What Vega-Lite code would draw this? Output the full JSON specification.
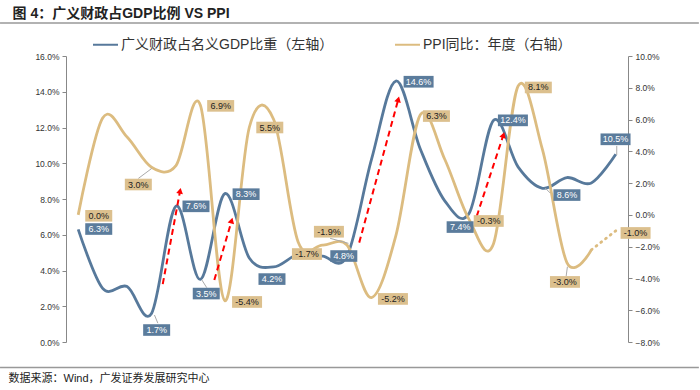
{
"$schema": "https://vega.github.io/schema/vega-lite/v6.json",
"width": 562, "height": 286,
"autosize": {"type": "none"},
"padding": {"left": 66, "top": 56, "right": 72, "bottom": 48},
"background": "white",
"config": {"view": {"stroke": null}, "font": "Liberation Sans, Noto Sans CJK SC"},
"datasets": {
 "fiscal": [
  {"year":2003,"v":6.3},{"year":2004,"v":3.0},{"year":2005,"v":3.1},{"year":2006,"v":1.6},{"year":2007,"v":7.6},{"year":2008,"v":3.5},{"year":2009,"v":8.3},{"year":2010,"v":4.7},{"year":2011,"v":4.2},{"year":2012,"v":4.9},{"year":2013,"v":4.8},{"year":2014,"v":4.8},{"year":2015,"v":10.2},{"year":2016,"v":14.6},{"year":2017,"v":10.8},{"year":2018,"v":7.9},{"year":2019,"v":7.2},{"year":2020,"v":12.4},{"year":2021,"v":9.8},{"year":2022,"v":8.6},{"year":2023,"v":9.2},{"year":2024,"v":8.9},{"year":2025,"v":10.5}
 ],
 "ppi": [
  {"year":2003,"v":0.0},{"year":2004,"v":6.1},{"year":2005,"v":4.9},{"year":2006,"v":3.0},{"year":2007,"v":3.1},{"year":2008,"v":6.9},{"year":2009,"v":-5.4},{"year":2010,"v":5.5},{"year":2011,"v":6.0},{"year":2012,"v":-1.7},{"year":2013,"v":-1.9},{"year":2014,"v":-1.9},{"year":2015,"v":-5.2},{"year":2016,"v":-1.3},{"year":2017,"v":6.3},{"year":2018,"v":3.5},{"year":2019,"v":-0.3},{"year":2020,"v":-1.8},{"year":2021,"v":8.1},{"year":2022,"v":4.1},{"year":2023,"v":-3.0},{"year":2024,"v":-2.2},{"year":2025,"v":-1.0}
 ],
 "frameline": [{"fx":1999.8,"fy":17.85,"g":"top"},{"fx":2028.4,"fy":17.85,"g":"top"},{"fx":1999.8,"fy":-1.43,"g":"bottom"},{"fx":2028.4,"fy":-1.43,"g":"bottom"}],
 "leaders": [
  {"x1":2005.46,"y1":9.15,"x2":2006.01,"y2":9.71},
  {"x1":2006.12,"y1":1.51,"x2":2006.26,"y2":1.05},
  {"x1":2008.06,"y1":3.47,"x2":2008.26,"y2":3.04},
  {"x1":2013.31,"y1":5.8,"x2":2014.06,"y2":5.52},
  {"x1":2022.11,"y1":8.62,"x2":2022.31,"y2":8.34},
  {"x1":2023.02,"y1":4.21,"x2":2022.97,"y2":3.69},
  {"x1":2025.04,"y1":10.97,"x2":2025.04,"y2":10.46}
 ],
 "arrows": [
  {"id":1,"x1":2006.46,"y1":3.24,"x2":2007.17,"y2":8.46},
  {"id":2,"x1":2008.57,"y1":3.47,"x2":2009.28,"y2":6.79},
  {"id":3,"x1":2014.5,"y1":5.56,"x2":2016.1,"y2":13.58},
  {"id":4,"x1":2019.31,"y1":7.04,"x2":2020.4,"y2":11.58}
 ],
 "labels": [
  {"lx":2003.84,"ly":7.06,"t":"0.0%","s":"ppi"},
  {"lx":2003.84,"ly":6.32,"t":"6.3%","s":"fiscal"},
  {"lx":2005.46,"ly":8.81,"t":"3.0%","s":"ppi"},
  {"lx":2006.21,"ly":0.67,"t":"1.7%","s":"fiscal"},
  {"lx":2007.82,"ly":7.59,"t":"7.6%","s":"fiscal"},
  {"lx":2008.83,"ly":13.21,"t":"6.9%","s":"ppi"},
  {"lx":2008.24,"ly":2.71,"t":"3.5%","s":"fiscal"},
  {"lx":2009.87,"ly":8.27,"t":"8.3%","s":"fiscal"},
  {"lx":2009.91,"ly":2.24,"t":"-5.4%","s":"ppi"},
  {"lx":2010.84,"ly":12.0,"t":"5.5%","s":"ppi"},
  {"lx":2010.93,"ly":3.52,"t":"4.2%","s":"fiscal"},
  {"lx":2012.36,"ly":4.92,"t":"-1.7%","s":"ppi"},
  {"lx":2013.26,"ly":6.17,"t":"-1.9%","s":"ppi"},
  {"lx":2013.87,"ly":4.81,"t":"4.8%","s":"fiscal"},
  {"lx":2015.88,"ly":2.41,"t":"-5.2%","s":"ppi"},
  {"lx":2016.93,"ly":14.56,"t":"14.6%","s":"fiscal"},
  {"lx":2017.66,"ly":12.64,"t":"6.3%","s":"ppi"},
  {"lx":2018.63,"ly":6.43,"t":"7.4%","s":"fiscal"},
  {"lx":2019.8,"ly":6.77,"t":"-0.3%","s":"ppi"},
  {"lx":2020.79,"ly":12.4,"t":"12.4%","s":"fiscal"},
  {"lx":2021.83,"ly":14.24,"t":"8.1%","s":"ppi"},
  {"lx":2023.0,"ly":8.22,"t":"8.6%","s":"fiscal"},
  {"lx":2022.92,"ly":3.36,"t":"-3.0%","s":"ppi"},
  {"lx":2024.99,"ly":11.34,"t":"10.5%","s":"fiscal"},
  {"lx":2025.81,"ly":6.1,"t":"-1.0%","s":"ppi"}
 ]
},
"layer": [
 {
  "data": {"name": "fiscal"},
  "mark": {"type": "line", "interpolate": "cardinal", "tension": 0, "strokeWidth": 2.8},
  "encoding": {
   "x": {"field": "year", "type": "quantitative", "scale": {"domain": [2002.5, 2025.5], "nice": false, "zero": false},
    "axis": {"values": [2002.5,2003.5,2004.5,2005.5,2006.5,2007.5,2008.5,2009.5,2010.5,2011.5,2012.5,2013.5,2014.5,2015.5,2016.5,2017.5,2018.5,2019.5,2020.5,2021.5,2022.5,2023.5,2024.5,2025.5],
     "labelExpr": "datum.value < 2025 ? toString(datum.value + 0.5) : ''", "labelOffset": 12.2, "labelFlush": false, "labelOverlap": false, "labelFontSize": 9, "labelColor": "#333", "labelPadding": 2, "tickSize": 4, "tickColor": "#888", "domainColor": "#888", "grid": false, "title": null}},
   "y": {"field": "v", "type": "quantitative", "scale": {"domain": [0, 16], "nice": false, "zero": false},
    "axis": {"orient": "left", "values": [0,2,4,6,8,10,12,14,16], "labelExpr": "format(datum.value, '.1f') + '%'", "labelFontSize": 8.5, "labelColor": "#333", "tickSize": 4, "tickColor": "#888", "domainColor": "#888", "grid": false, "labelPadding": 3,
     "title": "图 4：广义财政占GDP比例  VS PPI", "titleAngle": 0, "titleX": -54, "titleY": -43, "titleAlign": "left", "titleBaseline": "middle", "titleFontSize": 14, "titleFontWeight": "bold", "titleColor": "#222", "titleFont": "Liberation Sans, Noto Sans CJK SC"}},
   "color": {"datum": "广义财政占名义GDP比重（左轴）", "type": "nominal",
    "scale": {"domain": ["广义财政占名义GDP比重（左轴）", "PPI同比：年度（右轴）"], "range": ["#57799b", "#dcbc80"]},
    "legend": {"orient": "none", "legendX": 26, "legendY": -25, "direction": "horizontal", "title": null, "symbolType": "stroke", "symbolSize": 625, "symbolStrokeWidth": 2, "labelFontSize": 14, "labelColor": "#333", "labelFont": "Liberation Sans, Noto Sans CJK SC", "labelLimit": 400, "columnPadding": 57, "labelOffset": 2}}
  }
 },
 {
  "data": {"name": "ppi"},
  "transform": [{"filter": "datum.year <= 2024"}],
  "mark": {"type": "line", "interpolate": "cardinal", "tension": 0, "strokeWidth": 2.8},
  "encoding": {
   "x": {"field": "year", "type": "quantitative", "scale": {"domain": [2002.5, 2025.5], "nice": false, "zero": false}, "axis": null},
   "y": {"field": "v", "type": "quantitative", "scale": {"domain": [-8, 10], "nice": false, "zero": false},
    "axis": {"orient": "right", "values": [-8,-6,-4,-2,0,2,4,6,8,10], "labelExpr": "format(datum.value, '.1f') + '%'", "labelFontSize": 8.5, "labelColor": "#333", "tickSize": 4, "tickColor": "#888", "domainColor": "#888", "grid": false, "labelPadding": 3,
     "title": "数据来源：Wind，广发证券发展研究中心", "titleAngle": 0, "titleX": -620, "titleY": 322, "titleAlign": "left", "titleBaseline": "middle", "titleFontSize": 11, "titleFontWeight": "normal", "titleColor": "#222", "titleFont": "Liberation Sans, Noto Sans CJK SC"}},
   "color": {"datum": "PPI同比：年度（右轴）", "type": "nominal"}
  }
 },
 {
  "data": {"name": "ppi"},
  "transform": [{"filter": "datum.year >= 2024"}],
  "mark": {"type": "line", "strokeWidth": 2.8, "strokeDash": [1, 5], "strokeCap": "round", "color": "#dcbc80"},
  "encoding": {
   "x": {"field": "year", "type": "quantitative", "scale": {"domain": [2002.5, 2025.5], "nice": false, "zero": false}, "axis": null},
   "y": {"field": "v", "type": "quantitative", "scale": {"domain": [-8, 10], "nice": false, "zero": false}, "axis": null}
  }
 },
 {
  "data": {"name": "frameline"},
  "mark": {"type": "line", "color": "#999999", "strokeWidth": 1.5},
  "encoding": {
   "x": {"field": "fx", "type": "quantitative", "scale": {"domain": [2002.5, 2025.5], "nice": false, "zero": false}, "axis": null},
   "y": {"field": "fy", "type": "quantitative", "scale": {"domain": [0, 16], "nice": false, "zero": false}, "axis": null},
   "detail": {"field": "g"}
  }
 },
 {
  "layer": [
   {
    "data": {"name": "leaders"},
    "mark": {"type": "rule", "color": "#aaaaaa", "strokeWidth": 1},
    "encoding": {
     "x": {"field": "x1", "type": "quantitative", "scale": {"domain": [2002.5, 2025.5], "nice": false, "zero": false}, "axis": null},
     "x2": {"field": "x2"},
     "y": {"field": "y1", "type": "quantitative", "scale": {"domain": [0, 16], "nice": false, "zero": false}, "axis": null},
     "y2": {"field": "y2"}
    }
   },
   {
    "data": {"name": "arrows"},
    "mark": {"type": "rule", "color": "#ff0000", "strokeWidth": 2, "strokeDash": [6, 4]},
    "encoding": {
     "x": {"field": "x1", "type": "quantitative", "scale": {"domain": [2002.5, 2025.5], "nice": false, "zero": false}, "axis": null},
     "x2": {"field": "x2"},
     "y": {"field": "y1", "type": "quantitative", "scale": {"domain": [0, 16], "nice": false, "zero": false}, "axis": null},
     "y2": {"field": "y2"}
    }
   },
   {
    "data": {"name": "arrows"},
    "transform": [{"filter": "datum.id == 1"}],
    "mark": {"type": "point", "shape": "triangle-up", "filled": true, "opacity": 1, "color": "#ff0000", "size": 45, "angle": 10.5},
    "encoding": {
     "x": {"field": "x2", "type": "quantitative", "scale": {"domain": [2002.5, 2025.5], "nice": false, "zero": false}, "axis": null},
     "y": {"field": "y2", "type": "quantitative", "scale": {"domain": [0, 16], "nice": false, "zero": false}, "axis": null}
    }
   },
   {
    "data": {"name": "arrows"},
    "transform": [{"filter": "datum.id == 2"}],
    "mark": {"type": "point", "shape": "triangle-up", "filled": true, "opacity": 1, "color": "#ff0000", "size": 45, "angle": 16.3},
    "encoding": {
     "x": {"field": "x2", "type": "quantitative", "scale": {"domain": [2002.5, 2025.5], "nice": false, "zero": false}, "axis": null},
     "y": {"field": "y2", "type": "quantitative", "scale": {"domain": [0, 16], "nice": false, "zero": false}, "axis": null}
    }
   },
   {
    "data": {"name": "arrows"},
    "transform": [{"filter": "datum.id == 3"}],
    "mark": {"type": "point", "shape": "triangle-up", "filled": true, "opacity": 1, "color": "#ff0000", "size": 45, "angle": 15.2},
    "encoding": {
     "x": {"field": "x2", "type": "quantitative", "scale": {"domain": [2002.5, 2025.5], "nice": false, "zero": false}, "axis": null},
     "y": {"field": "y2", "type": "quantitative", "scale": {"domain": [0, 16], "nice": false, "zero": false}, "axis": null}
    }
   },
   {
    "data": {"name": "arrows"},
    "transform": [{"filter": "datum.id == 4"}],
    "mark": {"type": "point", "shape": "triangle-up", "filled": true, "opacity": 1, "color": "#ff0000", "size": 45, "angle": 18.1},
    "encoding": {
     "x": {"field": "x2", "type": "quantitative", "scale": {"domain": [2002.5, 2025.5], "nice": false, "zero": false}, "axis": null},
     "y": {"field": "y2", "type": "quantitative", "scale": {"domain": [0, 16], "nice": false, "zero": false}, "axis": null}
    }
   },
   {
    "data": {"name": "labels"},
    "transform": [{"filter": "length(datum.t) <= 4"}],
    "mark": {"type": "point", "shape": "M-1,-0.43H1V0.43H-1Z", "size": 729, "filled": true, "opacity": 1, "strokeWidth": 0},
    "encoding": {
     "x": {"field": "lx", "type": "quantitative", "scale": {"domain": [2002.5, 2025.5], "nice": false, "zero": false}, "axis": null},
     "y": {"field": "ly", "type": "quantitative", "scale": {"domain": [0, 16], "nice": false, "zero": false}, "axis": null},
     "fill": {"condition": {"test": "datum.s == 'fiscal'", "value": "#5b7c9c"}, "value": "#dcc08e"}
    }
   },
   {
    "data": {"name": "labels"},
    "transform": [{"filter": "length(datum.t) > 4"}],
    "mark": {"type": "point", "shape": "M-1,-0.39H1V0.39H-1Z", "size": 900, "filled": true, "opacity": 1, "strokeWidth": 0},
    "encoding": {
     "x": {"field": "lx", "type": "quantitative", "scale": {"domain": [2002.5, 2025.5], "nice": false, "zero": false}, "axis": null},
     "y": {"field": "ly", "type": "quantitative", "scale": {"domain": [0, 16], "nice": false, "zero": false}, "axis": null},
     "fill": {"condition": {"test": "datum.s == 'fiscal'", "value": "#5b7c9c"}, "value": "#dcc08e"}
    }
   },
   {
    "data": {"name": "labels"},
    "mark": {"type": "text", "fontSize": 9, "align": "center", "baseline": "middle", "font": "Liberation Sans"},
    "encoding": {
     "x": {"field": "lx", "type": "quantitative", "scale": {"domain": [2002.5, 2025.5], "nice": false, "zero": false}, "axis": null},
     "y": {"field": "ly", "type": "quantitative", "scale": {"domain": [0, 16], "nice": false, "zero": false}, "axis": null},
     "text": {"field": "t"},
     "fill": {"condition": {"test": "datum.s == 'fiscal'", "value": "#ffffff"}, "value": "#222222"}
    }
   }
  ]
 }
],
"resolve": {"scale": {"y": "independent"}}
}
